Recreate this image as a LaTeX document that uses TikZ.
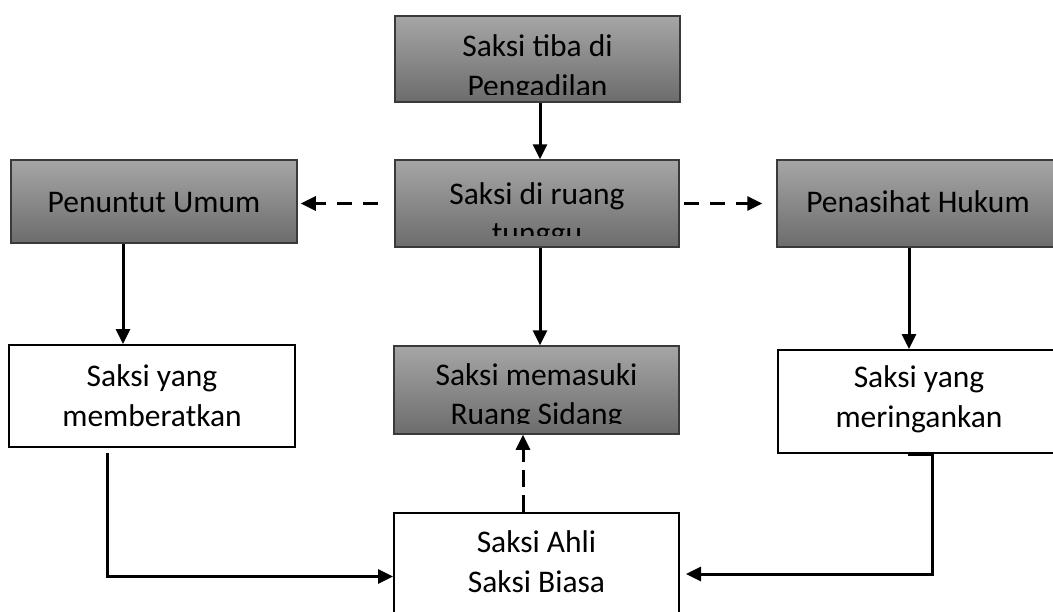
\documentclass[tikz,border=0pt]{standalone}
\usepackage{fontspec}
\setmainfont{Carlito}
\usetikzlibrary{arrows.meta,calc}
\definecolor{gtop}{HTML}{A6A6A6}
\definecolor{gbot}{HTML}{6C6C6C}
\definecolor{gline}{HTML}{3A3A3A}
\begin{document}
\begin{tikzpicture}[x=1pt,y=-1pt,
 gbox/.style={rectangle, draw=gline, line width=1.5pt, top color=gtop, bottom color=gbot, inner sep=0pt},
 wbox/.style={rectangle, draw=black, line width=2pt, fill=white, inner sep=0pt},
 txt/.style={align=center, inner sep=0pt, font=\fontsize{31.5}{39.5}\selectfont, text=black},
 arr/.style={line width=3pt, -{Triangle[length=15pt,width=14pt]}},
 darr/.style={arr, dash pattern=on 15pt off 11pt},
]
\useasboundingbox (0,0) rectangle (1053,611);
\clip (0,0) rectangle (1053,611);

% boxes
\node[gbox, minimum width=285pt, minimum height=86pt] (n1) at (537.5,59) {};
\node[gbox, minimum width=284pt, minimum height=87pt] (n2) at (537,203.5) {};
\node[gbox, minimum width=286pt, minimum height=83pt] (pu) at (154,201.5) {};
\node[gbox, minimum width=282pt, minimum height=87pt] (ph) at (918,203.5) {};
\node[wbox, minimum width=286pt, minimum height=102pt] (mb) at (152,396) {};
\node[wbox, minimum width=282pt, minimum height=103pt] (mr) at (919,401.5) {};
\node[gbox, minimum width=285pt, minimum height=88pt] (ms) at (536.5,390) {};
\node[wbox, minimum width=285pt, minimum height=127pt] (sa) at (536.5,576.5) {};

% texts (base anchor = baseline of the last line; clipped where the reference clips them)
\begin{scope}
\clip (n1.north west) rectangle ([yshift=8pt]n1.south east);
\node[txt, anchor=base] (t1) at ([yshift=-81pt]n1.north) {Saksi tiba di\\Pengadilan};
\end{scope}
\begin{scope}
\clip (n2.north west) rectangle ([yshift=12pt]n2.south east);
\node[txt, anchor=base] (t2) at ([yshift=-84.5pt]n2.north) {Saksi di ruang\\tunggu};
\end{scope}
\begin{scope}
\clip (ms.north west) rectangle ([yshift=11pt]ms.south east);
\node[txt, anchor=base] (t3) at ([yshift=-79.5pt]ms.north) {Saksi memasuki\\Ruang Sidang};
\end{scope}
\node[txt, anchor=base] (t4) at ([yshift=-53pt]pu.north) {Penuntut Umum};
\node[txt, anchor=base] (t5) at ([yshift=-53pt]ph.north) {Penasihat Hukum};
\node[txt, anchor=base] (t6) at ([yshift=-82pt]mb.north) {Saksi yang\\memberatkan};
\node[txt, anchor=base] (t7) at ([yshift=-78pt]mr.north) {Saksi yang\\meringankan};
\node[txt, anchor=base] (t8) at ([yshift=-80pt]sa.north) {Saksi Ahli\\Saksi Biasa};

% connectors
\draw[arr] ([xshift=2.5pt]n1.south) -- ([xshift=2.5pt]n1.south |- n2.north);
\draw[arr] ([xshift=3pt]n2.south) -- ([xshift=3pt]n2.south |- ms.north);
\draw[arr] ([xshift=-31pt]pu.south) -- ([xshift=-31pt]pu.south |- mb.north);
\draw[arr] ([xshift=-9pt]ph.south) -- ([xshift=-9pt]ph.south |- mr.north);
\draw[darr, shorten <=16pt, shorten >=3pt] (n2.west) -- (n2.west -| pu.east);
\draw[darr, shorten <=4pt, shorten >=14pt] (n2.east) -- (n2.east -| ph.west);
\draw[arr, dash pattern=on 17pt off 8pt] ([xshift=-13.5pt]sa.north) -- ([xshift=-13.5pt]sa.north |- ms.south);
\draw[arr, shorten <=5pt] ([xshift=-45pt]mb.south) |- (sa.west);
\draw[arr, shorten >=6pt] ([xshift=-11pt]mr.south) -- ([xshift=13pt]mr.south) |- ([yshift=2.5pt]sa.east);
\end{tikzpicture}
\end{document}
